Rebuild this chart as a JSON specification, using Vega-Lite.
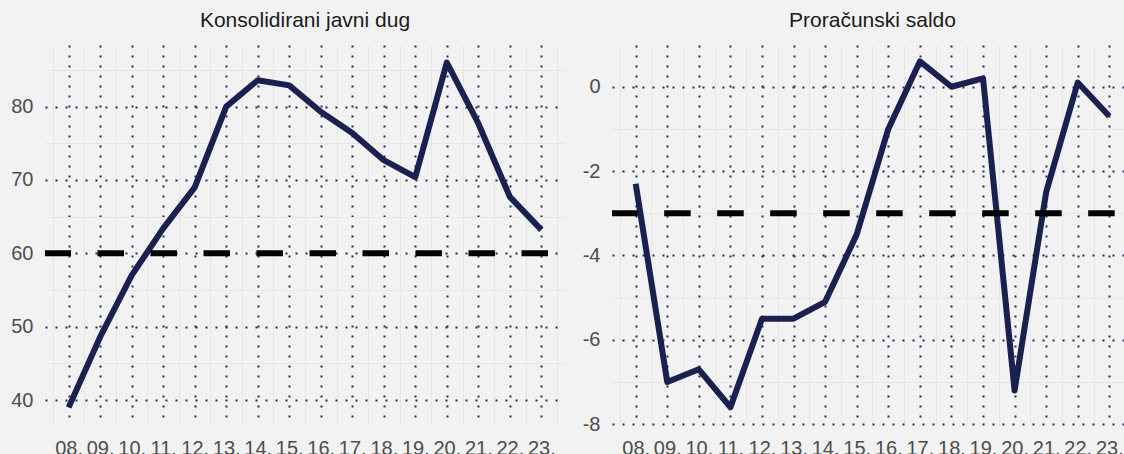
{
  "$schema": "https://vega.github.io/schema/vega-lite/v6.json",
  "background": "#f2f2f2",
  "padding": {"left": 5, "top": 10, "right": 0, "bottom": 0},
  "spacing": 4,
  "datasets": {
    "podaci": [
      {"godina": 2008, "dug": 39.0, "saldo": -2.3},
      {"godina": 2009, "dug": 48.6, "saldo": -7.0},
      {"godina": 2010, "dug": 57.0, "saldo": -6.7},
      {"godina": 2011, "dug": 63.4, "saldo": -7.6},
      {"godina": 2012, "dug": 69.0, "saldo": -5.5},
      {"godina": 2013, "dug": 80.0, "saldo": -5.5},
      {"godina": 2014, "dug": 83.6, "saldo": -5.1},
      {"godina": 2015, "dug": 82.9, "saldo": -3.5},
      {"godina": 2016, "dug": 79.3, "saldo": -1.0},
      {"godina": 2017, "dug": 76.4, "saldo": 0.6},
      {"godina": 2018, "dug": 72.7, "saldo": 0.0},
      {"godina": 2019, "dug": 70.4, "saldo": 0.2},
      {"godina": 2020, "dug": 86.0, "saldo": -7.2},
      {"godina": 2021, "dug": 77.7, "saldo": -2.5},
      {"godina": 2022, "dug": 67.7, "saldo": 0.1},
      {"godina": 2023, "dug": 63.2, "saldo": -0.7}
    ]
  },
  "hconcat": [
    {
      "width": 520,
      "height": 380,
      "title": {"text": "Konsolidirani javni dug"},
      "layer": [
        {
          "data": {"name": "podaci"},
          "mark": {"type": "line", "color": "#1a2151", "strokeWidth": 6, "strokeJoin": "round", "strokeCap": "butt"},
          "encoding": {
            "x": {
              "field": "godina", "type": "quantitative",
              "scale": {"domain": [2007.25, 2023.75], "nice": false, "zero": false},
              "axis": {
                "title": null,
                "values": [2007.5, 2008, 2008.5, 2009, 2009.5, 2010, 2010.5, 2011, 2011.5, 2012, 2012.5, 2013, 2013.5, 2014, 2014.5, 2015, 2015.5, 2016, 2016.5, 2017, 2017.5, 2018, 2018.5, 2019, 2019.5, 2020, 2020.5, 2021, 2021.5, 2022, 2022.5, 2023, 2023.5],
                "labelExpr": "datum.value % 1 === 0 ? slice(toString(datum.value), 2) + '.' : ''",
                "gridColor": {"condition": {"test": "datum.value % 1 !== 0", "value": "#e6e6e6"}, "value": "#232c55"},
                "gridDash": {"condition": {"test": "datum.value % 1 !== 0", "value": []}, "value": [2, 8]},
                "gridWidth": {"condition": {"test": "datum.value % 1 !== 0", "value": 1}, "value": 2},
                "labelPadding": 13
              }
            },
            "y": {
              "field": "dug", "type": "quantitative",
              "scale": {"domain": [36.6, 88.4], "nice": false, "zero": false},
              "axis": {
                "title": null,
                "values": [40, 45, 50, 55, 60, 65, 70, 75, 80, 85],
                "labelExpr": "datum.value % 10 === 0 ? toString(datum.value) : ''",
                "gridColor": {"condition": {"test": "datum.value % 10 !== 0", "value": "#e6e6e6"}, "value": "#232c55"},
                "gridDash": {"condition": {"test": "datum.value % 10 !== 0", "value": []}, "value": [2, 8]},
                "gridWidth": {"condition": {"test": "datum.value % 10 !== 0", "value": 1}, "value": 2},
                "labelPadding": 12,
                "minExtent": 40,
                "maxExtent": 40
              }
            }
          }
        },
        {
          "data": {"values": [{"prag": 60}]},
          "mark": {"type": "rule", "color": "#000000", "strokeWidth": 6, "strokeDash": [26.5, 26.5], "strokeDashOffset": 36},
          "encoding": {
            "y": {
              "field": "prag", "type": "quantitative",
              "scale": {"domain": [36.6, 88.4], "nice": false, "zero": false},
              "axis": {
                "title": null,
                "values": [40, 45, 50, 55, 60, 65, 70, 75, 80, 85],
                "labelExpr": "datum.value % 10 === 0 ? toString(datum.value) : ''",
                "gridColor": {"condition": {"test": "datum.value % 10 !== 0", "value": "#e6e6e6"}, "value": "#232c55"},
                "gridDash": {"condition": {"test": "datum.value % 10 !== 0", "value": []}, "value": [2, 8]},
                "gridWidth": {"condition": {"test": "datum.value % 10 !== 0", "value": 1}, "value": 2},
                "labelPadding": 12,
                "minExtent": 40,
                "maxExtent": 40
              }
            }
          }
        }
      ]
    },
    {
      "width": 515,
      "height": 380,
      "title": {"text": "Proračunski saldo", "dx": 3},
      "layer": [
        {
          "data": {"name": "podaci"},
          "mark": {"type": "line", "color": "#1a2151", "strokeWidth": 6, "strokeJoin": "round", "strokeCap": "butt"},
          "encoding": {
            "x": {
              "field": "godina", "type": "quantitative",
              "scale": {"domain": [2007.25, 2023.56], "nice": false, "zero": false},
              "axis": {
                "title": null,
                "values": [2007.5, 2008, 2008.5, 2009, 2009.5, 2010, 2010.5, 2011, 2011.5, 2012, 2012.5, 2013, 2013.5, 2014, 2014.5, 2015, 2015.5, 2016, 2016.5, 2017, 2017.5, 2018, 2018.5, 2019, 2019.5, 2020, 2020.5, 2021, 2021.5, 2022, 2022.5, 2023, 2023.5],
                "labelExpr": "datum.value % 1 === 0 ? slice(toString(datum.value), 2) + '.' : ''",
                "gridColor": {"condition": {"test": "datum.value % 1 !== 0", "value": "#e6e6e6"}, "value": "#232c55"},
                "gridDash": {"condition": {"test": "datum.value % 1 !== 0", "value": []}, "value": [2, 8]},
                "gridWidth": {"condition": {"test": "datum.value % 1 !== 0", "value": 1}, "value": 2},
                "labelPadding": 13
              }
            },
            "y": {
              "field": "saldo", "type": "quantitative",
              "scale": {"domain": [-8.02, 0.99], "nice": false, "zero": false},
              "axis": {
                "title": null,
                "values": [-8, -7, -6, -5, -4, -3, -2, -1, 0],
                "labelExpr": "datum.value % 2 === 0 ? toString(datum.value) : ''",
                "gridColor": {"condition": {"test": "datum.value % 2 !== 0", "value": "#e6e6e6"}, "value": "#232c55"},
                "gridDash": {"condition": {"test": "datum.value % 2 !== 0", "value": []}, "value": [2, 8]},
                "gridWidth": {"condition": {"test": "datum.value % 2 !== 0", "value": 1}, "value": 2},
                "labelPadding": 12,
                "minExtent": 40,
                "maxExtent": 40
              }
            }
          }
        },
        {
          "data": {"values": [{"prag": -3}]},
          "mark": {"type": "rule", "color": "#000000", "strokeWidth": 6, "strokeDash": [26.5, 26.5], "strokeDashOffset": 40.7},
          "encoding": {
            "y": {
              "field": "prag", "type": "quantitative",
              "scale": {"domain": [-8.02, 0.99], "nice": false, "zero": false},
              "axis": {
                "title": null,
                "values": [-8, -7, -6, -5, -4, -3, -2, -1, 0],
                "labelExpr": "datum.value % 2 === 0 ? toString(datum.value) : ''",
                "gridColor": {"condition": {"test": "datum.value % 2 !== 0", "value": "#e6e6e6"}, "value": "#232c55"},
                "gridDash": {"condition": {"test": "datum.value % 2 !== 0", "value": []}, "value": [2, 8]},
                "gridWidth": {"condition": {"test": "datum.value % 2 !== 0", "value": 1}, "value": 2},
                "labelPadding": 12,
                "minExtent": 40,
                "maxExtent": 40
              }
            }
          }
        }
      ]
    }
  ],
  "config": {
    "view": {"stroke": null},
    "font": "Liberation Sans",
    "title": {"fontSize": 21, "fontWeight": "normal", "color": "#1a1a1a", "baseline": "alphabetic", "offset": 14, "anchor": "middle"},
    "axis": {
      "domain": false,
      "ticks": false,
      "tickSize": 0,
      "grid": true,
      "labelFontSize": 20,
      "labelColor": "#4d4d4d",
      "labelOverlap": false,
      "labelFlush": false,
      "labelBound": false
    }
  }
}
